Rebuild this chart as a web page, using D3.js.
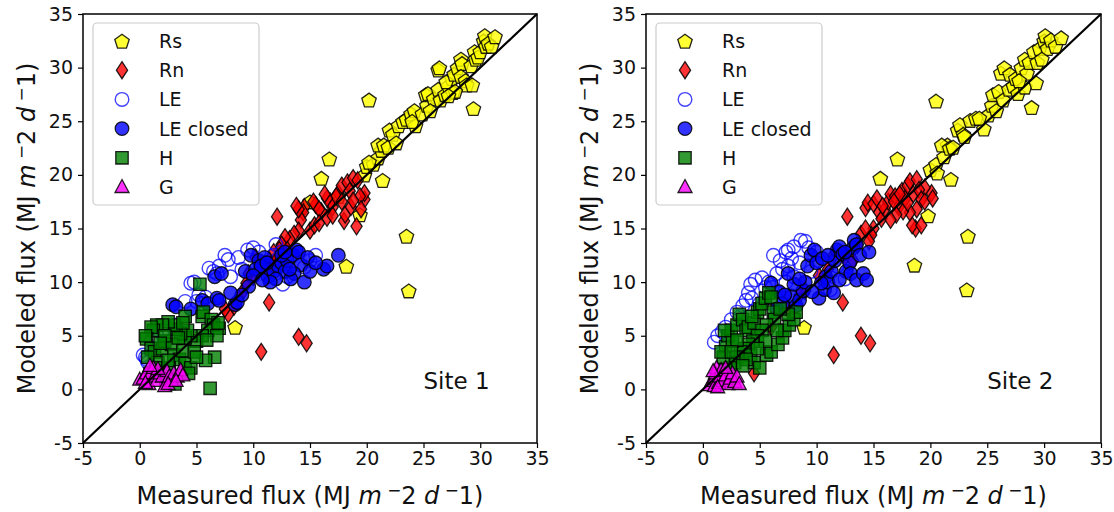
<!DOCTYPE html>
<html>
<head>
<meta charset="utf-8">
<script src="https://cdn.jsdelivr.net/npm/d3@7"></script>
<style>
body { margin: 0; background: #fff; }
text { font-family: "DejaVu Sans", sans-serif; fill: #111; }
</style>
</head>
<body>
<svg id="chart" width="1114" height="512"></svg>
<script>
// series names (legend order = draw order)
var seriesNames = ["Rs", "Rn", "LE", "LE closed", "H", "G"];
var ticks = [-5, 0, 5, 10, 15, 20, 25, 30, 35];
var siteLabels = ["Site 1", "Site 2"];

// ---- Site 1 values [measured, modeled]
var s1Rs = [[20.2,27.0],[16.7,21.5],[16.0,19.7],[21.4,19.5],[19.4,16.3],[18.2,11.5],[23.5,14.3],[23.7,9.2],[8.4,5.8],[29.4,26.2],
  [19.8,20.0],[20.0,20.8],[20.6,21.0],[21.0,21.6],[21.3,22.3],[21.0,22.8],[21.5,22.8],[21.9,22.6],[22.0,24.2],[22.3,23.8],
  [22.8,24.6],[23.2,25.0],[23.5,25.2],[23.9,25.7],[24.2,26.0],[24.3,24.6],[24.0,25.0],[24.9,25.7],[25.3,26.5],[25.2,27.5],
  [25.4,27.6],[25.9,27.1],[26.3,28.0],[26.3,29.8],[26.4,30.0],[26.5,27.0],[26.9,27.5],[27.2,28.3],[27.5,29.0],[27.0,28.7],
  [27.6,27.7],[27.7,29.4],[28.0,30.0],[28.3,30.8],[28.4,30.4],[28.3,29.2],[28.7,28.8],[28.8,28.4],[29.2,30.2],[29.5,31.5],
  [29.6,30.8],[29.8,31.0],[30.0,31.5],[30.3,32.5],[30.4,33.0],[30.5,32.0],[30.7,32.3],[31.0,32.0],[31.3,32.9],[29.3,28.4],
  [27.8,27.8],[27.2,27.4],[25.6,26.0],[22.6,23.0],[20.2,21.2],[17.5,18.0],[15.0,17.5]];
var s1Rn = [[12.1,16.1],[11.4,8.1],[10.7,3.5],[14.0,4.9],[14.7,4.3],[19.1,15.2],[18.0,15.7],[18.1,16.3],[19.8,17.7],[19.8,18.3],
  [19.4,18.0],[18.6,17.0],[17.5,18.3],[17.0,17.0],[16.5,16.0],[16.0,16.6],[15.5,17.2],[15.3,17.5],[14.5,17.0],[14.4,16.5],
  [14.2,15.8],[15.0,14.8],[15.4,15.3],[14.0,14.8],[13.6,14.5],[13.2,14.0],[12.8,14.2],[12.5,13.5],[12.3,13.0],[11.8,12.8],
  [11.4,12.0],[11.0,11.7],[10.5,11.4],[10.0,10.5],[9.6,10.8],[9.4,9.9],[9.0,9.0],[8.7,8.5],[8.3,7.7],[7.8,7.0],
  [7.5,7.5],[16.8,17.5],[17.3,18.0],[17.8,19.0],[18.3,19.3],[18.8,19.7],[19.2,19.5],[18.5,18.5],[17.8,17.5],[16.5,17.8],
  [15.8,16.8],[16.3,18.2],[17.0,16.2],[18.8,17.6],[19.5,16.8],[14.0,16.8],[13.8,17.1],[10.2,12.3],[11.5,11.0],[12.0,12.0],
  [13.0,13.0],[15.8,15.5]];
var s1LE = [[0.5,3.0],[0.6,2.8],[0.7,2.5],[4.0,8.2],[4.5,9.9],[4.8,10.0],[5.0,8.2],[5.5,8.0],[5.2,8.8],[5.8,8.6],
  [6.1,11.3],[6.5,11.0],[7.0,11.5],[7.5,12.5],[7.8,12.1],[6.8,10.8],[9.5,13.0],[10.0,13.2],[10.5,12.8],[11.8,12.5],
  [12.2,12.2],[12.5,12.8],[11.0,11.7],[12.6,9.8],[13.0,10.5],[15.5,12.5],[15.0,12.0],[14.5,11.4],[13.4,12.6],[9.0,11.2],
  [8.0,10.5],[3.2,6.0],[2.0,5.5],[1.0,4.5],[1.5,5.0],[0.3,3.2],[12.0,13.5],[8.7,12.3]];
var s1LEc = [[2.9,7.9],[3.2,7.7],[5.5,8.3],[6.0,8.0],[6.8,8.5],[6.6,10.5],[7.2,10.8],[8.4,7.9],[8.6,8.1],[9.3,11.0],
  [9.8,12.5],[10.5,12.0],[11.0,12.3],[10.2,11.2],[10.7,11.5],[11.3,10.5],[11.8,11.0],[12.2,11.5],[12.5,11.8],[12.8,11.0],
  [13.0,12.0],[13.5,12.5],[13.8,13.0],[14.0,12.8],[14.2,11.6],[13.6,10.8],[14.5,10.0],[13.3,10.3],[12.0,10.3],[11.5,10.0],
  [10.0,10.6],[9.6,9.6],[14.8,12.3],[15.0,11.0],[16.2,11.2],[16.5,11.5],[17.5,12.5],[15.5,11.8],[12.5,12.5],[10.8,10.2],
  [9.0,8.8],[8.0,9.0],[7.0,8.3],[4.5,7.5],[12.8,12.8],[11.2,11.8],[13.2,11.2]];
var s1H = [[5.3,9.8],[4.0,6.8],[5.5,6.8],[5.6,7.2],[6.3,6.5],[6.5,6.0],[6.0,5.5],[7.0,5.7],[6.8,5.0],[5.5,5.0],
  [5.0,4.5],[4.5,5.0],[4.0,4.8],[4.2,5.5],[3.6,5.2],[3.2,5.6],[3.0,6.0],[2.5,6.3],[2.0,6.0],[1.5,6.0],
  [1.2,5.5],[1.0,5.8],[0.6,4.7],[1.0,3.8],[1.3,3.5],[2.0,3.8],[2.2,4.5],[2.8,4.2],[3.0,3.2],[3.5,2.8],
  [3.8,3.6],[4.0,2.4],[4.5,2.0],[2.6,2.0],[2.3,1.0],[3.1,0.5],[1.6,2.5],[0.7,3.0],[6.6,3.0],[6.2,0.1],
  [5.8,2.7],[4.8,3.5],[5.0,3.0],[3.4,4.8],[2.2,5.0],[1.8,4.3],[0.5,5.0],[1.4,2.0],[2.5,2.7],[4.3,1.5],
  [0.9,1.5],[6.9,6.2],[3.8,6.2],[5.9,4.6]];
var s1G = [[0.0,0.9],[0.3,1.0],[0.6,1.5],[0.8,0.5],[1.0,1.5],[1.2,2.0],[1.3,1.2],[1.5,0.8],[1.8,1.5],[2.0,1.2],
  [2.2,0.3],[2.4,1.7],[2.6,1.2],[2.8,0.8],[3.0,1.5],[3.3,1.2],[3.6,1.8],[3.8,1.3],[0.5,0.6],[1.6,1.9],
  [2.5,0.5],[3.2,0.8],[0.9,2.2]];

// ---- Site 2
var s2Rs = [[20.5,26.9],[17.1,21.5],[15.6,19.7],[21.8,19.6],[19.8,16.2],[18.6,11.6],[23.3,14.3],[23.2,9.3],[8.9,5.8],[28.9,26.3],
  [20.0,20.5],[20.5,21.0],[20.6,20.2],[21.2,21.7],[21.5,22.8],[21.0,22.8],[21.7,22.5],[22.0,22.6],[22.4,24.2],[22.6,24.7],
  [22.9,23.8],[23.5,25.1],[24.0,25.3],[24.7,24.3],[25.1,25.6],[25.4,26.5],[25.5,27.5],[26.0,27.8],[26.2,29.5],[26.5,30.0],
  [26.4,27.0],[26.9,28.0],[27.0,29.4],[27.3,28.3],[27.5,29.0],[27.7,27.6],[28.0,30.0],[28.3,30.8],[28.5,29.5],[28.3,28.2],
  [28.7,30.5],[29.1,31.5],[29.3,28.6],[29.4,30.5],[29.6,31.8],[30.0,32.5],[30.1,33.0],[30.3,31.8],[30.6,32.6],[31.0,32.0],
  [31.5,32.8],[29.8,30.8],[27.8,28.8],[25.8,26.0],[23.0,23.6],[24.3,25.3]];
var s2Rn = [[12.7,16.1],[12.3,8.1],[11.5,3.2],[13.9,5.0],[14.7,4.3],[18.7,15.0],[18.4,15.3],[19.2,15.3],[20.1,18.3],[19.5,18.8],
  [4.5,1.5],[14.3,16.9],[14.5,17.4],[15.0,17.3],[15.3,17.8],[15.5,16.5],[15.7,15.9],[15.0,15.0],[14.8,14.4],[14.6,13.8],
  [13.9,14.5],[14.3,15.0],[16.0,16.8],[16.3,17.5],[16.5,18.2],[16.9,18.0],[17.2,17.0],[17.5,18.5],[17.8,17.8],[18.0,19.0],
  [18.2,19.4],[18.5,18.2],[18.8,19.6],[19.0,18.6],[19.2,17.7],[18.8,16.8],[18.2,16.5],[17.6,16.6],[17.0,16.3],[16.5,15.8],
  [19.5,17.5],[20.2,17.8],[17.3,18.2],[15.8,17.1],[12.5,12.3],[13.6,13.5],[13.2,12.0],[11.5,12.5],[10.2,10.6],[9.0,9.2],
  [8.5,8.8],[7.5,7.4],[6.0,5.8],[11.0,11.2],[18.0,17.4],[16.8,17.5]];
var s2LE = [[1.0,4.4],[1.3,5.0],[1.7,5.4],[2.0,5.8],[2.5,6.5],[3.0,7.2],[3.5,7.8],[3.8,8.3],[4.0,9.0],[4.3,8.5],
  [4.2,9.8],[4.6,10.2],[5.2,10.4],[5.5,9.5],[5.8,10.0],[6.1,9.5],[6.5,10.8],[7.0,11.2],[7.3,10.0],[7.5,11.5],
  [7.8,12.2],[6.2,12.5],[6.8,12.0],[7.3,12.8],[7.5,13.0],[8.0,13.3],[8.6,13.9],[9.0,13.8],[9.3,13.2],[10.0,12.8],
  [10.2,12.0],[8.0,10.5],[6.5,8.5],[5.0,8.0],[3.3,6.8],[11.2,9.3],[12.5,10.3],[11.8,11.5],[9.5,11.0],[8.5,11.8]];
var s2LEc = [[6.0,9.9],[6.7,9.1],[7.0,8.0],[7.8,8.7],[8.2,7.8],[8.5,8.3],[8.8,9.2],[9.0,10.0],[9.2,11.5],[9.5,12.5],
  [9.8,13.0],[10.0,11.8],[10.5,12.2],[10.8,10.5],[10.2,8.5],[10.7,9.3],[11.0,10.0],[11.3,11.0],[11.6,12.0],[11.8,13.0],
  [12.0,13.3],[12.3,12.6],[12.6,11.0],[12.9,11.8],[13.2,13.2],[13.3,13.9],[13.5,13.5],[13.8,12.5],[13.0,10.8],[13.5,10.2],
  [14.1,10.8],[14.4,10.2],[14.6,12.8],[12.0,10.2],[11.5,9.0],[10.4,9.9],[9.6,9.1],[8.0,9.8],[7.2,8.8],[6.5,7.5],
  [7.5,10.8],[8.5,10.3],[11.0,12.5],[12.5,12.8]];
var s2H = [[2.0,4.0],[2.2,5.0],[2.5,5.5],[3.0,6.0],[3.2,7.0],[3.5,6.5],[3.8,5.5],[4.0,5.8],[4.5,6.2],[4.8,7.2],
  [5.0,7.5],[5.2,8.0],[5.5,8.5],[5.8,9.0],[6.0,8.6],[6.2,7.2],[6.3,6.5],[5.6,6.0],[5.2,5.5],[4.8,5.0],
  [4.4,4.5],[4.0,4.2],[3.6,3.8],[3.3,3.5],[3.0,3.0],[2.8,2.5],[2.4,2.0],[2.0,1.8],[1.8,3.0],[1.6,3.5],
  [2.6,4.5],[3.0,4.6],[4.2,3.2],[4.5,2.5],[5.0,2.0],[5.6,3.2],[6.0,3.5],[6.6,4.2],[7.0,4.8],[7.2,5.5],
  [7.6,6.0],[8.0,6.5],[8.2,7.2],[7.5,7.0],[6.8,7.5],[6.5,5.5],[5.5,4.5],[4.8,3.8],[3.8,2.8],[3.5,2.2],
  [2.5,3.5],[1.9,5.5],[4.3,6.8]];
var s2G = [[0.6,0.4],[0.8,0.8],[1.0,1.0],[1.1,1.5],[1.2,2.0],[1.0,0.3],[1.4,0.6],[1.5,1.2],[1.6,1.8],[1.8,0.8],
  [2.0,1.3],[2.2,0.5],[2.4,1.0],[2.6,1.5],[2.8,0.7],[3.0,1.2],[3.2,0.5],[1.3,0.2],[0.9,1.7],[2.0,2.0]];

var sites = [
  [s1Rs, s1Rn, s1LE, s1LEc, s1H, s1G],
  [s2Rs, s2Rn, s2LE, s2LEc, s2H, s2G]
];

// marker styles
var styles = [
  {shape: "pentagon", fill: "#ffff00", stroke: "#000"},
  {shape: "diamond", fill: "#ff0000", stroke: "#000"},
  {shape: "circle", fill: "none", stroke: "#0000ff"},
  {shape: "circle", fill: "#0000ff", stroke: "#000"},
  {shape: "square", fill: "#008000", stroke: "#000"},
  {shape: "triangle", fill: "#ff00ff", stroke: "#000"}
];

function markerPath(shape) {
  var pts = [];
  if (shape == "pentagon") {
    for (var k = 0; k < 5; k++) {
      var a = (-90 + k * 72) * Math.PI / 180;
      pts.push([7.6 * Math.cos(a), 7.6 * Math.sin(a) + 0.9]);
    }
  } else if (shape == "diamond") {
    pts = [[0,-8.5], [5.6,0], [0,8.5], [-5.6,0]];
  } else if (shape == "square") {
    pts = [[-6.2,-6.2], [6.2,-6.2], [6.2,6.2], [-6.2,6.2]];
  } else if (shape == "triangle") {
    pts = [[0,-7.5], [7,5.5], [-7,5.5]];
  } else {
    return d3.symbol().type(d3.symbolCircle).size(Math.PI * 6.8 * 6.8)();
  }
  return "M" + pts.map(function(p){ return p[0].toFixed(2) + "," + p[1].toFixed(2); }).join("L") + "Z";
}

var svg = d3.select("#chart");
var panels = [{left: 83, right: 537}, {left: 646, right: 1101}];
var plotTop = 14, plotBottom = 443;

function drawMarker(g, i, x, y) {
  var st = styles[i];
  g.append("path")
    .attr("d", markerPath(st.shape))
    .attr("transform", "translate(" + x + "," + y + ")")
    .attr("fill", st.fill)
    .attr("fill-opacity", 0.8)
    .attr("stroke", st.stroke)
    .attr("stroke-opacity", st.fill == "none" ? 0.75 : 0.85)
    .attr("stroke-width", st.fill == "none" ? 1.4 : 1.3);
}

function unitLabel(t, prefix) {
  t.append("tspan").text(prefix + "(MJ ");
  t.append("tspan").attr("font-style", "italic").text("m");
  t.append("tspan").attr("dy", -8).attr("font-size", "0.7em").text(" \u2212");
  t.append("tspan").attr("dy", 8).text("2 ");
  t.append("tspan").attr("font-style", "italic").text("d");
  t.append("tspan").attr("dy", -8).attr("font-size", "0.7em").text(" \u2212");
  t.append("tspan").attr("dy", 8).text("1)");
}

panels.forEach(function(p, si) {
  var x = d3.scaleLinear().domain([-5, 35]).range([p.left, p.right]);
  var y = d3.scaleLinear().domain([-5, 35]).range([plotBottom, plotTop]);
  var g = svg.append("g");

  // points
  sites[si].forEach(function(data, i) {
    var sg = g.append("g");
    data.forEach(function(d) { drawMarker(sg, i, x(d[0]), y(d[1])); });
  });

  // 1:1 line
  g.append("line")
    .attr("x1", x(-5)).attr("y1", y(-5))
    .attr("x2", x(35)).attr("y2", y(35))
    .attr("stroke", "#000").attr("stroke-width", 2.2);

  // axes
  var xa = g.append("g").attr("transform", "translate(0," + plotBottom + ")")
    .call(d3.axisBottom(x).tickValues(ticks).tickSize(5).tickPadding(4).tickFormat(function(d){ return String(d); }));
  var ya = g.append("g").attr("transform", "translate(" + p.left + ",0)")
    .call(d3.axisLeft(y).tickValues(ticks).tickSize(5).tickPadding(5).tickFormat(function(d){ return String(d); }));
  [xa, ya].forEach(function(a) {
    a.select(".domain").remove();
    a.selectAll("line").attr("stroke", "#000").attr("stroke-width", 1.2);
    a.selectAll("text").attr("font-size", 19).attr("font-family", "DejaVu Sans").attr("fill", "#111");
  });
  g.append("rect")
    .attr("x", p.left).attr("y", plotTop)
    .attr("width", p.right - p.left).attr("height", plotBottom - plotTop)
    .attr("fill", "none").attr("stroke", "#000").attr("stroke-width", 1.5);

  // axis titles
  var xt = g.append("text")
    .attr("x", (p.left + p.right) / 2).attr("y", 504)
    .attr("text-anchor", "middle").attr("font-size", 24);
  unitLabel(xt, "Measured flux ");
  var yt = g.append("text")
    .attr("transform", "translate(" + (p.left - 48) + "," + ((plotTop + plotBottom) / 2) + ") rotate(-90)")
    .attr("text-anchor", "middle").attr("font-size", 24);
  unitLabel(yt, "Modeled flux ");

  // site label
  g.append("text")
    .attr("x", x(25)).attr("y", y(0))
    .attr("font-size", 23)
    .text(siteLabels[si]);

  // legend
  var lx = p.left + 10, ly = 23;
  var lg = g.append("g");
  lg.append("rect")
    .attr("x", lx).attr("y", ly).attr("width", 166).attr("height", 182)
    .attr("rx", 4).attr("fill", "#fff").attr("fill-opacity", 0.8)
    .attr("stroke", "#ccc").attr("stroke-width", 1.2);
  seriesNames.forEach(function(name, i) {
    var cy = ly + 18 + i * 29.2;
    drawMarker(lg, i, lx + 29, cy);
    lg.append("text")
      .attr("x", lx + 66).attr("y", cy + 7)
      .attr("font-size", 19)
      .text(name);
  });
});
</script>
</body>
</html>
